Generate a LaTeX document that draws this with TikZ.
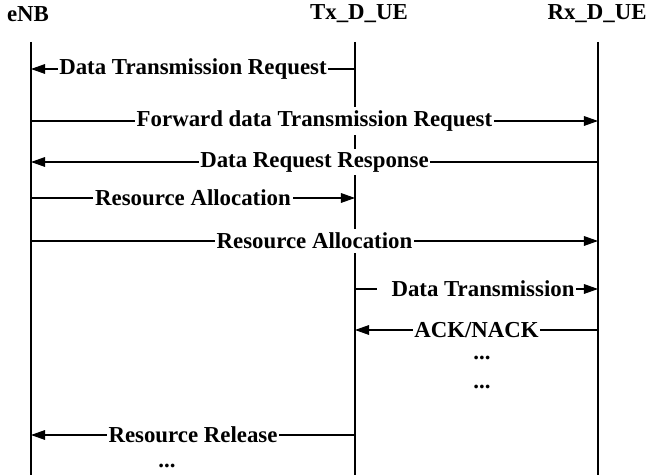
\documentclass[tikz,border=0pt]{standalone}
\usepackage{fontspec}
\setmainfont{Liberation Serif}
\usetikzlibrary{arrows.meta}

\tikzset{
  lifeline/.style={line width=1.2pt},
  msg/.style={line width=0.6pt, -{Triangle[length=8pt,width=5.5pt]}},
  lbl/.style={fill=white, inner xsep=1pt, inner ysep=2pt},
  head/.style={inner sep=0pt}
}

\begin{document}
\begin{tikzpicture}[x=0.02cm, y=-0.02cm, font=\fontsize{13}{15}\selectfont\bfseries]
  \useasboundingbox (0,0) rectangle (648,475);

  % heads of the three lifelines
  \node[head] (enbhead) at (28,14) {eNB};
  \node[head] (txhead) at (359,14) {Tx\_D\_UE};
  \node[head] (rxhead) at (597,14) {Rx\_D\_UE};

  \coordinate (enb) at (31,42);
  \coordinate (tx) at (355,42);
  \coordinate (rx) at (598,42);
  \coordinate (enbend) at (31,475);
  \coordinate (txend) at (355,475);
  \coordinate (rxend) at (598,475);

  % lifelines
  \draw[lifeline] (enb) -- (enbend);
  \draw[lifeline] (tx) -- (txend);
  \draw[lifeline] (rx) -- (rxend);

  % rows of the messages
  \coordinate (m1) at (0,69);
  \coordinate (m2) at (0,121);
  \coordinate (m3) at (0,162);
  \coordinate (m4) at (0,198);
  \coordinate (m5) at (0,241);
  \coordinate (m6) at (0,289);
  \coordinate (m7) at (0,330);
  \coordinate (m8) at (0,435);

  %Tx_D_UE chiede i dati all'eNB
  \draw[msg] (tx |- m1) -- (enb |- m1) node[midway, lbl] (req) {Data Transmission Request};

  %eNB inoltra la richiesta a Rx_D_UE
  \draw[msg] (enb |- m2) -- (rx |- m2) node[midway, lbl] (fwd) {Forward data Transmission Request};
  \draw[msg] (rx |- m3) -- (enb |- m3) node[midway, lbl] (resp) {Data Request Response};

  %allocazione delle risorse
  \draw[msg] (enb |- m4) -- (tx |- m4) node[midway, lbl] (alloctx) {Resource Allocation};
  \draw[msg] (enb |- m5) -- (rx |- m5) node[midway, lbl] (allocrx) {Resource Allocation};

  %trasmissione diretta
  \draw[msg] (tx |- m6) -- (rx |- m6) node[midway, lbl] (trans) {\hspace{0.26cm}Data Transmission};
  \draw[msg] (rx |- m7) -- (tx |- m7) node[midway, lbl] (ack) {ACK/NACK};
  \node (dots1) at (482,358) {...};
  \node (dots2) at (482,387) {...};

  %rilascio
  \draw[msg] (tx |- m8) -- (enb |- m8) node[midway, lbl] (rel) {Resource Release};
  \node (dots3) at (167,466) {...};
\end{tikzpicture}
\end{document}
